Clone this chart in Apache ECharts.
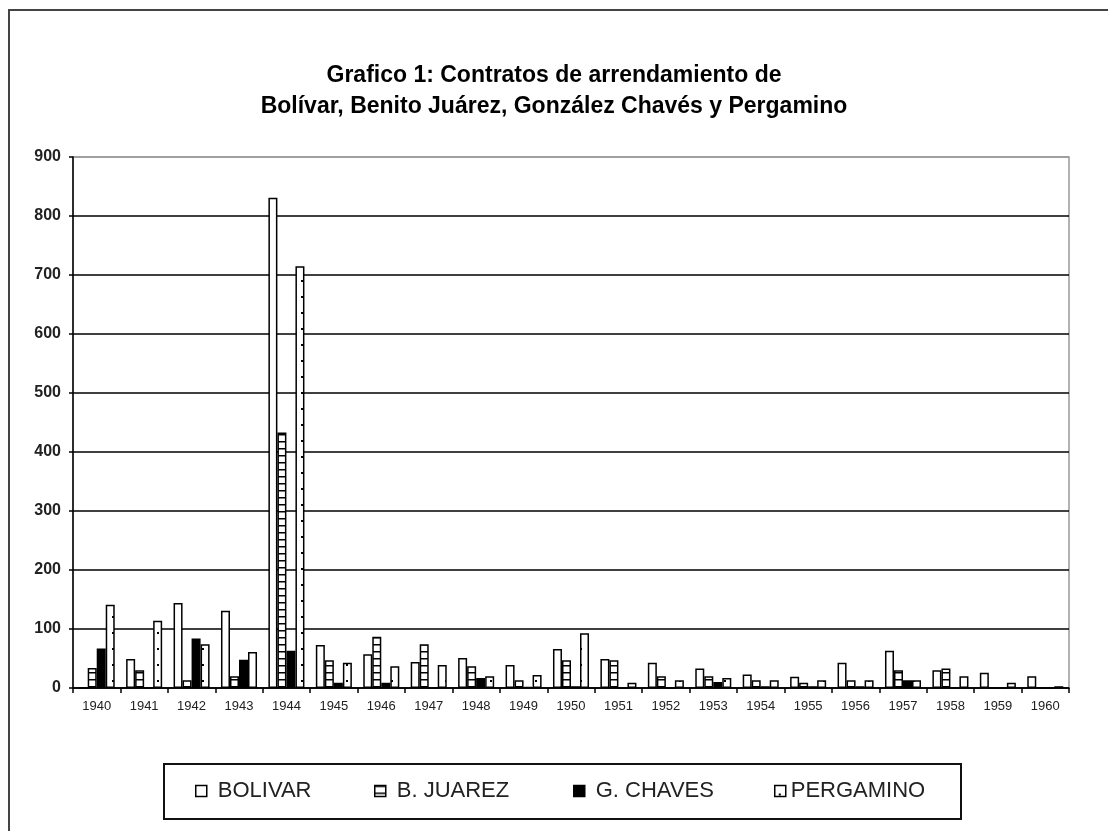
<!DOCTYPE html>
<html>
<head>
<meta charset="utf-8">
<script src="https://cdn.jsdelivr.net/npm/echarts@6/dist/echarts.min.js"></script>
<style>
  html, body { margin: 0; padding: 0; background: #fff; }
  #chart { width: 1108px; height: 831px; }
</style>
</head>
<body>
<div id="chart"></div>
<script>
// 年份
const years = ['1940', '1941', '1942', '1943', '1944', '1945', '1946', '1947', '1948', '1949', '1950',
  '1951', '1952', '1953', '1954', '1955', '1956', '1957', '1958', '1959', '1960'];

// 各partido的合同数
const bolivar = [0, 49, 144, 131, 831, 73, 57, 44, 51, 39, 66, 49, 43, 33, 23, 19, 43, 63, 30, 26, 20];
const juarez = [34, 30, 13, 20, 433, 47, 87, 74, 37, 13, 47, 47, 20, 20, 13, 9, 13, 30, 33, 0, 0];
const chaves = [67, 0, 84, 48, 63, 9, 9, 0, 17, 2, 3, 0, 0, 10, 3, 3, 3, 13, 0, 0, 0];
const pergamino = [141, 114, 74, 61, 715, 43, 37, 39, 20, 22, 93, 9, 13, 17, 13, 13, 13, 13, 20, 9, 3];

const seriesNames = ['BOLIVAR', 'B. JUAREZ', 'G. CHAVES', 'PERGAMINO'];
const yTicks = { min: 0, max: 900, interval: 100 };
const titleLines = ['Grafico 1: Contratos de arrendamiento de', 'Bolívar, Benito Juárez, González Chavés y Pergamino'];

const font = 'Liberation Sans, Arial, sans-serif';

// 横条纹 pattern
const makeStripes = () => {
  const c = document.createElement('canvas');
  c.width = 8; c.height = 7;
  const ctx = c.getContext('2d');
  ctx.fillStyle = '#fff';
  ctx.fillRect(0, 0, 8, 7);
  ctx.fillStyle = '#000';
  ctx.fillRect(0, 0, 8, 1.5);
  return c;
};

// 点状 pattern
const makeDots = () => {
  const c = document.createElement('canvas');
  c.width = 9; c.height = 16;
  const ctx = c.getContext('2d');
  ctx.fillStyle = '#fff';
  ctx.fillRect(0, 0, 9, 16);
  ctx.fillStyle = '#000';
  ctx.fillRect(4, 8, 2, 2);
  return c;
};

const stripeFill = { image: makeStripes(), repeat: 'repeat' };
const dotFill = { image: makeDots(), repeat: 'repeat' };

const fills = ['#fff', stripeFill, '#000', dotFill];
const values = [bolivar, juarez, chaves, pergamino];

const chart = echarts.init(document.getElementById('chart'));

// 图例位置 (每项一个 legend)
const legendLefts = [190, 369, 568, 769];
const legends = seriesNames.map((name, i) => ({
  data: [name],
  left: legendLefts[i],
  top: 775,
  icon: 'rect',
  itemWidth: 11,
  itemHeight: 11,
  itemGap: 0,
  selectedMode: false,
  textStyle: { fontFamily: font, fontSize: 22, color: '#222', padding: [0, 0, 0, i === 3 ? 0 : 6] },
  itemStyle: { borderColor: '#000', borderWidth: 1.5 }
}));

const splitColors = ['#000', '#000', '#000', '#000', '#000', '#000', '#000', '#000', '#000', '#999'];

const option = {
  backgroundColor: '#fff',
  animation: false,
  title: titleLines.map((t, i) => ({
    text: t,
    left: 'center',
    top: 59 + i * 31,
    textStyle: { fontFamily: font, fontSize: 23, fontWeight: 'bold', color: '#000' }
  })),
  graphic: [
    {
      type: 'rect',
      shape: { x: 9, y: 10, width: 1200, height: 900 },
      style: { fill: null, stroke: '#444', lineWidth: 2 },
      silent: true
    },
    {
      type: 'rect',
      shape: { x: 164, y: 764, width: 797, height: 55 },
      style: { fill: null, stroke: '#111', lineWidth: 2 },
      silent: true
    }
  ],
  legend: legends,
  grid: {
    left: 73,
    right: 39,
    top: 157,
    bottom: 143,
    show: true,
    borderColor: '#999',
    borderWidth: 1.5
  },
  xAxis: {
    type: 'category',
    data: years,
    axisLine: { lineStyle: { color: '#000', width: 1.5 } },
    axisTick: { show: true, length: 5, lineStyle: { color: '#000', width: 1.5 } },
    axisLabel: { interval: 0, margin: 12, fontFamily: font, fontSize: 13, color: '#222' },
    splitLine: { show: false }
  },
  yAxis: {
    type: 'value',
    min: yTicks.min,
    max: yTicks.max,
    interval: yTicks.interval,
    axisLine: { show: true, lineStyle: { color: '#000', width: 1.5 } },
    axisTick: { show: true, length: 4, lineStyle: { color: '#000', width: 1.5 } },
    axisLabel: { margin: 12, fontFamily: font, fontSize: 16, fontWeight: 'bold', color: '#222' },
    splitLine: { show: true, lineStyle: { color: splitColors, width: 1.5 } }
  },
  series: seriesNames.map((name, i) => ({
    name: name,
    type: 'bar',
    data: values[i],
    barGap: '0%',
    barCategoryGap: '24%',
    itemStyle: { color: fills[i], borderColor: '#000', borderWidth: 1.5 }
  }))
};

chart.setOption(option);
</script>
</body>
</html>
